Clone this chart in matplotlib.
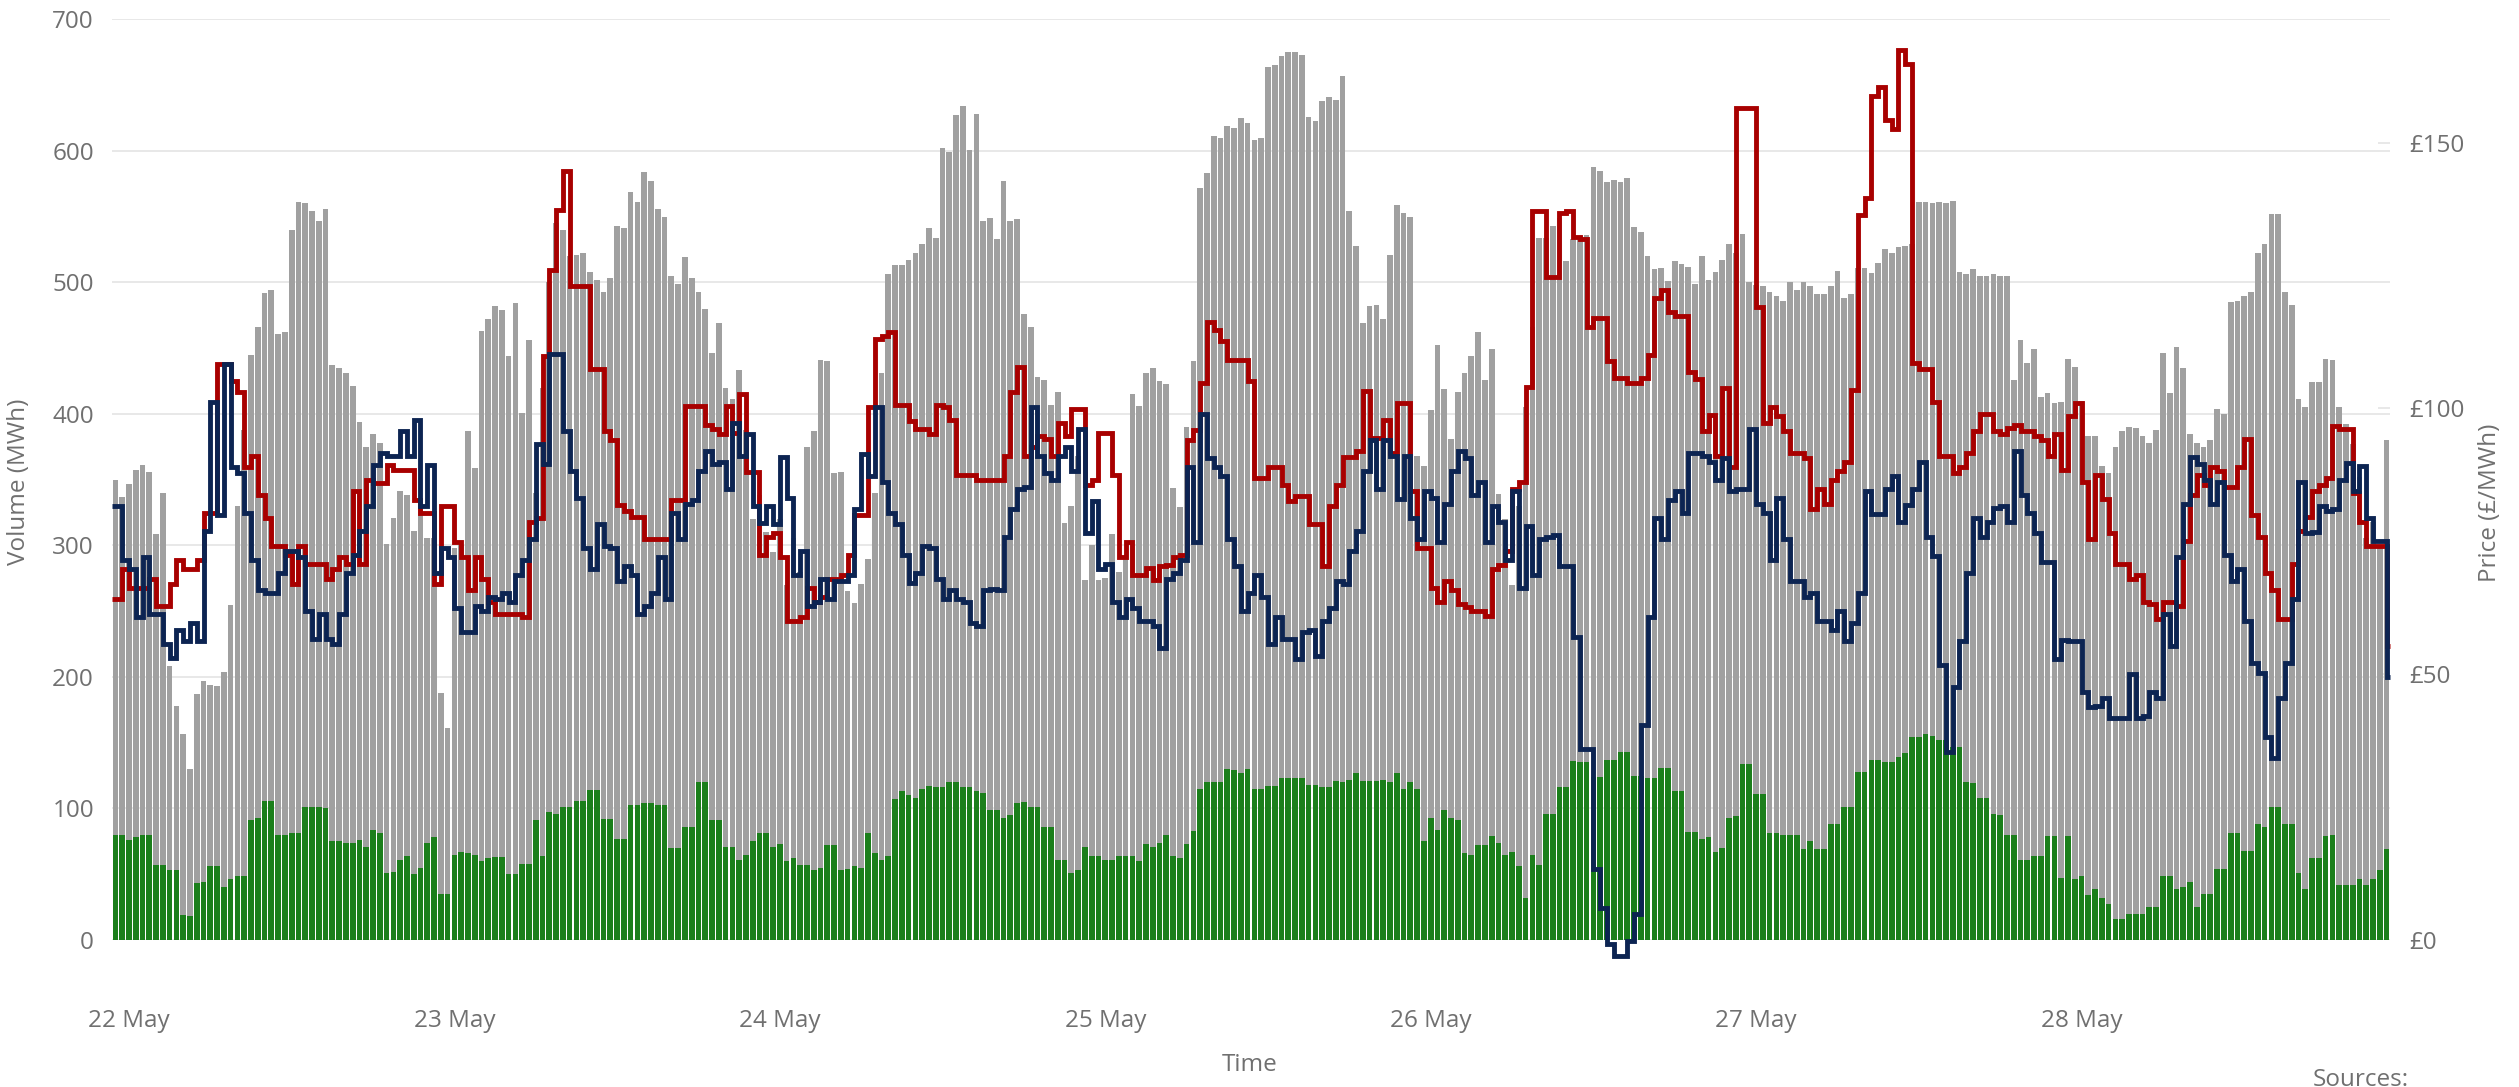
import numpy as np
import matplotlib
matplotlib.use("Agg")
import matplotlib.pyplot as plt

plt.rcParams['font.family'] = ['Open Sans', 'DejaVu Sans']

# ---------------- data (half-hourly, 7 days x 48 periods) ----------------
day_labels = ["22 May", "23 May", "24 May", "25 May", "26 May", "27 May", "28 May"]

total_volume = [
    350, 337, 347, 357, 361, 356, 309, 340, 208, 178, 157, 130, 187, 197, 194, 193, 204, 255, 330, 388, 445, 466, 492, 494,
    461, 462, 540, 561, 560, 554, 547, 556, 437, 435, 431, 421, 394, 375, 385, 378, 301, 321, 341, 338, 311, 330, 306, 306,
    188, 161, 298, 300, 387, 359, 463, 472, 482, 479, 444, 484, 401, 456, 340, 420, 500, 545, 540, 520, 521, 522, 508, 502,
    493, 503, 543, 541, 569, 561, 584, 577, 556, 550, 505, 499, 519, 503, 493, 480, 446, 469, 420, 411, 433, 388, 320, 338,
    310, 295, 320, 270, 306, 280, 375, 387, 441, 440, 355, 356, 265, 256, 271, 290, 340, 431, 506, 513, 513, 517, 522, 529,
    541, 534, 602, 599, 627, 634, 601, 628, 547, 549, 533, 577, 547, 548, 476, 466, 428, 426, 407, 417, 317, 330, 368, 274,
    300, 274, 275, 309, 280, 290, 415, 406, 431, 435, 425, 423, 344, 329, 390, 440, 572, 583, 611, 610, 619, 617, 625, 621,
    608, 610, 664, 665, 672, 675, 675, 673, 626, 623, 638, 641, 639, 657, 554, 528, 469, 482, 483, 472, 521, 559, 553, 550,
    368, 360, 403, 452, 419, 381, 417, 431, 444, 462, 426, 449, 339, 320, 270, 330, 405, 466, 534, 534, 543, 549, 516, 533,
    535, 536, 588, 585, 576, 578, 576, 579, 542, 538, 520, 510, 511, 501, 516, 514, 512, 499, 520, 502, 508, 517, 529, 522,
    537, 500, 498, 497, 493, 490, 486, 500, 494, 500, 497, 491, 491, 497, 509, 488, 491, 511, 511, 507, 515, 525, 522, 527,
    528, 529, 561, 561, 560, 561, 560, 562, 508, 506, 510, 505, 505, 506, 505, 505, 426, 456, 439, 449, 413, 416, 408, 409,
    442, 436, 410, 383, 383, 360, 355, 375, 387, 390, 389, 383, 378, 388, 446, 416, 451, 435, 385, 378, 375, 380, 404, 400,
    485, 486, 490, 493, 522, 529, 552, 552, 493, 483, 411, 405, 424, 424, 442, 441, 405, 392, 377, 352, 306, 318, 300, 380,
]

green_volume = [
    80, 80, 76, 78, 80, 80, 57, 57, 53, 53, 19, 18, 43, 44, 56, 56, 40, 46, 49, 49, 91, 93, 106, 106,
    80, 80, 81, 81, 101, 101, 101, 100, 75, 75, 74, 74, 76, 71, 84, 81, 51, 52, 61, 64, 50, 55, 74, 78,
    35, 35, 65, 67, 66, 65, 60, 62, 63, 63, 50, 50, 58, 58, 91, 64, 97, 96, 101, 101, 106, 106, 114, 114,
    92, 92, 77, 77, 103, 103, 104, 104, 103, 103, 70, 70, 86, 86, 120, 120, 91, 91, 71, 71, 61, 65, 75, 81,
    81, 71, 73, 60, 62, 57, 57, 53, 55, 72, 72, 53, 54, 56, 55, 81, 66, 61, 64, 107, 113, 110, 108, 115,
    117, 116, 116, 120, 120, 116, 116, 113, 112, 99, 99, 93, 95, 104, 105, 101, 101, 86, 86, 61, 61, 51, 53, 71,
    64, 64, 61, 61, 64, 64, 64, 60, 73, 71, 74, 80, 64, 62, 73, 83, 115, 120, 120, 120, 130, 129, 127, 130,
    115, 115, 117, 117, 123, 123, 123, 123, 118, 118, 116, 116, 121, 120, 122, 127, 121, 121, 121, 122, 120, 127, 115, 120,
    115, 75, 93, 84, 99, 93, 91, 66, 65, 72, 72, 79, 74, 65, 67, 56, 32, 65, 57, 96, 96, 116, 116, 136,
    135, 135, 124, 124, 137, 137, 143, 143, 125, 125, 123, 123, 131, 131, 113, 113, 82, 82, 77, 78, 67, 70, 93, 94,
    134, 134, 111, 111, 81, 81, 80, 80, 80, 69, 75, 69, 69, 88, 88, 101, 101, 128, 128, 137, 137, 135, 135, 139,
    142, 154, 154, 157, 155, 152, 152, 147, 147, 120, 119, 108, 108, 96, 95, 80, 80, 61, 61, 64, 64, 79, 79, 47,
    79, 46, 49, 34, 39, 32, 27, 16, 16, 20, 20, 20, 25, 25, 49, 49, 39, 40, 44, 25, 35, 35, 54, 54,
    81, 81, 68, 68, 88, 86, 101, 101, 88, 88, 51, 39, 62, 62, 79, 80, 42, 42, 42, 46, 42, 46, 53, 69,
]

red_price = [
    64.1, 69.7, 66.3, 66.3, 66.3, 68, 62.9, 62.9, 66.9, 71.4, 69.7, 69.7, 71.4, 80.4, 80.4, 108.4, 108.4, 105.2, 103, 88.9, 91.1, 83.8, 79.3, 74.2,
    74.2, 72.5, 66.9, 74.2, 70.8, 70.8, 70.8, 68, 69.7, 72, 70.8, 84.4, 70.8, 86.6, 86, 86, 89.4, 88.5, 88.5, 88.5, 82.7, 80.4, 80.4, 66.9,
    81.6, 81.6, 74.8, 72, 65.8, 72, 68, 63.5, 61.3, 61.3, 61.3, 61.3, 60.7, 78.7, 79.3, 109.8, 126.1, 137.4, 144.7, 123.1, 123.1, 123.1, 107.5, 107.5,
    95.7, 94, 81.8, 80.7, 79.6, 79.6, 75.4, 75.4, 75.4, 75.4, 82.7, 82.7, 100.5, 100.5, 100.5, 96.8, 96.2, 95.1, 100.5, 95.3, 102.8, 88.1, 88.1, 72.5,
    75.9, 76.5, 72, 60.1, 60.1, 60.7, 66.3, 63.5, 64.6, 68, 68, 68.6, 72.5, 79.9, 79.9, 100.2, 113.1, 113.7, 114.3, 100.7, 100.7, 97.6, 96.2, 96.2,
    95.1, 100.7, 100.2, 97.9, 87.4, 87.4, 87.4, 86.6, 86.6, 86.6, 86.6, 91.1, 103, 107.8, 91.1, 92.8, 94.9, 94.3, 91.1, 97.3, 94.9, 99.8, 99.8, 85.5,
    86.6, 95.3, 95.3, 87.4, 72, 74.8, 68.6, 68.6, 70, 67.8, 70.3, 70.5, 72, 72.5, 94, 96, 104.7, 116.3, 114.8, 112.6, 109.2, 109.2, 109.2, 105.2,
    87, 87, 88.9, 88.9, 85.5, 82.5, 83.6, 83.6, 78.2, 78.2, 70.3, 81.6, 85.5, 90.8, 90.8, 91.9, 103.2, 94.5, 94.5, 97.9, 91.7, 101, 101, 84.4,
    73.7, 73.7, 66.3, 63.5, 67.5, 65.8, 63.2, 62.6, 61.8, 61.8, 60.9, 69.7, 70.5, 73.1, 84.9, 86.1, 104.1, 137.2, 137.2, 124.8, 124.8, 136.8, 137.2, 132.3,
    131.8, 115.4, 117.1, 117.1, 108.9, 105.8, 105.8, 104.7, 104.7, 105.8, 110, 120.7, 122.2, 118.2, 117.4, 117.4, 106.9, 105.5, 95.7, 98.7, 91.1, 103.9, 88.9, 156.6,
    156.6, 156.6, 119.1, 97.3, 100.2, 98.5, 95.7, 91.7, 91.7, 90.6, 81, 84.9, 82.1, 86.6, 88.3, 90, 103.5, 136.3, 139.6, 158.8, 160.5, 154.3, 152.6, 167.5,
    164.8, 108.6, 107.5, 107.5, 101.3, 91.1, 91.1, 87.8, 88.9, 91.7, 95.7, 99, 99, 95.7, 95.1, 96.4, 96.8, 95.7, 95.7, 94.9, 94, 91.1, 95.1, 88.5,
    98.5, 101.1, 86.1, 75.4, 87.4, 82.9, 76.5, 70.8, 70.8, 68, 68.6, 63.5, 63.2, 60.3, 63.5, 63.5, 62.9, 75, 83.8, 87.4, 85.6, 88.9, 88.3, 85.2,
    85.2, 88.9, 94.2, 79.9, 75.9, 69.1, 65.8, 60.3, 60.3, 70.8, 77, 79.5, 84.4, 85.5, 87, 96.6, 96.2, 96.2, 84, 78.7, 74.2, 74.2, 74.2, 55.4,
]

navy_price = [
    81.6, 71.4, 69.7, 60.7, 72, 61.3, 61.3, 55.6, 53.1, 58.4, 56.2, 59.6, 56.2, 77, 101.3, 79.9, 108.4, 88.9, 87.8, 80.4, 71.4, 65.8, 65.2, 65.2,
    69.1, 73.1, 73.1, 72, 61.8, 56.7, 61.3, 56.7, 55.6, 61.3, 69.1, 72.5, 77, 81.6, 89.4, 91.7, 91.1, 91.1, 95.7, 91.1, 97.9, 81.6, 89.4, 69.1,
    73.7, 72, 62.4, 57.9, 57.9, 62.9, 61.8, 64.6, 64.1, 65.2, 63.5, 68.6, 71.4, 75.4, 93.4, 89.5, 110.3, 110.3, 95.7, 88.3, 83.2, 73.7, 69.7, 78.2,
    74.2, 73.7, 67.5, 70.3, 68.6, 61.3, 62.9, 65.2, 72, 64.1, 80.4, 75.4, 82.1, 82.7, 88.3, 92, 89.5, 90, 84.9, 97.3, 91.1, 95.1, 81.6, 78.4,
    81.6, 78.2, 90.8, 83.2, 68.6, 73.1, 62.9, 63.5, 68, 64.1, 67.5, 67.5, 68.6, 81, 91.5, 87.2, 100.2, 86.1, 80.4, 78.2, 72.5, 67.1, 69.1, 74.2,
    73.7, 68, 64.1, 65.8, 64.1, 63.5, 59.6, 59, 65.8, 66, 65.8, 75.9, 81, 84.9, 85.3, 100.2, 91.1, 87.8, 86.6, 91.1, 92.8, 88.3, 96.2, 76.5,
    82.5, 69.7, 70.8, 63.5, 60.7, 64.1, 62.4, 60.1, 60.1, 59, 55, 68, 69.1, 71.4, 88.9, 74.8, 99, 90.6, 88.9, 87.2, 75.4, 70.3, 61.8, 65.2,
    68.6, 64.6, 55.6, 60.7, 56.7, 56.7, 52.8, 57.9, 58.4, 53.4, 60.1, 62.4, 67.5, 66.9, 73.1, 77, 88.3, 94, 84.9, 94, 91.1, 82.9, 91.1, 79.3,
    75.4, 84.4, 83.2, 74.8, 82.1, 88.3, 92, 90.6, 83.8, 86.1, 74.8, 81.6, 78.7, 71.4, 84.4, 66.3, 77.9, 68.6, 75.4, 75.9, 76.1, 70.3, 70.3, 57,
    35.9, 35.9, 13.3, 6, -0.8, -3, -3, -0.2, 4.9, 40.4, 60.7, 79.3, 75.4, 82.7, 84.4, 80.4, 91.7, 91.7, 91.1, 90, 86.6, 90.6, 84.4, 84.9,
    84.9, 96.2, 82.1, 80.4, 71.4, 83.2, 75.4, 67.5, 67.5, 64.6, 65.2, 60.1, 60.1, 58.4, 61.8, 56.2, 59.6, 65.2, 84.4, 80.2, 80.2, 84.9, 87.2, 78.7,
    81.8, 84.9, 90, 75.9, 72.3, 51.7, 35.3, 47.5, 56.2, 69.1, 79.3, 75.9, 78.7, 81.2, 81.6, 78.7, 91.9, 83.8, 80.4, 76.5, 71.2, 71.2, 52.8, 56.5,
    56.2, 56.2, 46.6, 43.8, 44.1, 45.5, 41.8, 41.8, 41.8, 50, 41.8, 42.1, 46.6, 45.5, 61.3, 55.3, 72, 82.1, 90.8, 89.5, 86.6, 82.1, 86.1, 72.5,
    67.5, 69.7, 60.1, 52.2, 50.2, 38.1, 34.2, 45.5, 52.2, 64.1, 86.1, 76.5, 76.7, 81.6, 80.7, 81, 86.5, 89.7, 84.4, 89.2, 79.3, 75.1, 75.1, 49.4,
]

volume_ticks = [0, 100, 200, 300, 400, 500, 600, 700]
price_ticks = [0, 50, 100, 150]
price_tick_labels = ["£0", "£50", "£100", "£150"]

# ---------------- styling ----------------
TXT = "#707070"
GRAY = "#a0a0a0"
GREEN = "#1b7f1b"
RED = "#a80000"
NAVY = "#0c2452"
FS = 17.5

W, H = 2519, 1087
fig = plt.figure(figsize=(W / 100, H / 100), dpi=100)
L, R, T, B = 112, 2390, 19.3, 940
ax = fig.add_axes([L / W, 1 - B / H, (R - L) / W, (B - T) / H])

n = len(total_volume)
x = np.arange(n)
ax.bar(x, total_volume, width=0.84, color=GRAY, zorder=2, linewidth=0)
ax.bar(x, green_volume, width=0.84, color=GREEN, zorder=3, linewidth=0)

ax.set_xlim(-0.5, n - 0.5)
ax.set_ylim(0, 700)
ax.set_yticks(volume_ticks)
ax.set_yticklabels([str(v) for v in volume_ticks])
ax.grid(axis="y", color="#e6e6e6", linewidth=1.3, zorder=0)
ax.set_axisbelow(True)
for s in ax.spines.values():
    s.set_visible(False)
ax.set_xticks(np.arange(2, n, 48))
ax.set_xticklabels(day_labels)
ax.tick_params(axis="x", length=0, pad=50, labelsize=FS, labelcolor=TXT)
ax.tick_params(axis="y", length=0, pad=13, labelsize=FS, labelcolor=TXT)

# right axis tick stubs (drawn beneath bars)
PMAX = 173.2
for p in price_ticks:
    ax.hlines(p / PMAX * 700, n - 0.5 - 1.8, n - 0.5, color="#e6e6e6", lw=1.3, zorder=1)

ax2 = ax.twinx()
ax2.set_ylim(0, PMAX)
ax2.set_yticks(price_ticks)
ax2.set_yticklabels(price_tick_labels)
ax2.tick_params(axis="y", length=0, pad=14, labelsize=FS, labelcolor=TXT)
for s in ax2.spines.values():
    s.set_visible(False)

xs = np.r_[-0.5, np.arange(1, n), n - 0.5]
for series, col in ((red_price, RED), (navy_price, NAVY)):
    ys = np.r_[series, series[-1]]
    ax2.step(xs, ys, where="post", color=col, lw=3.5, clip_on=False,
             solid_joinstyle="miter", solid_capstyle="butt")

fig.text(19 / W, 1 - 482 / H, "Volume (MWh)", rotation=90, ha="center", va="center",
         fontsize=FS, color=TXT)
fig.text(2490 / W, 1 - 503 / H, "Price (£/MWh)", rotation=90, ha="center", va="center",
         fontsize=FS, color=TXT)
fig.text(1250 / W, 1 - 1065 / H, "Time", ha="center", va="center", fontsize=FS, color=TXT)
fig.text(2313 / W, 1 - 1068 / H, "Sources:", ha="left", va="top", fontsize=FS, color=TXT)

fig.savefig("out.png", dpi=100)
